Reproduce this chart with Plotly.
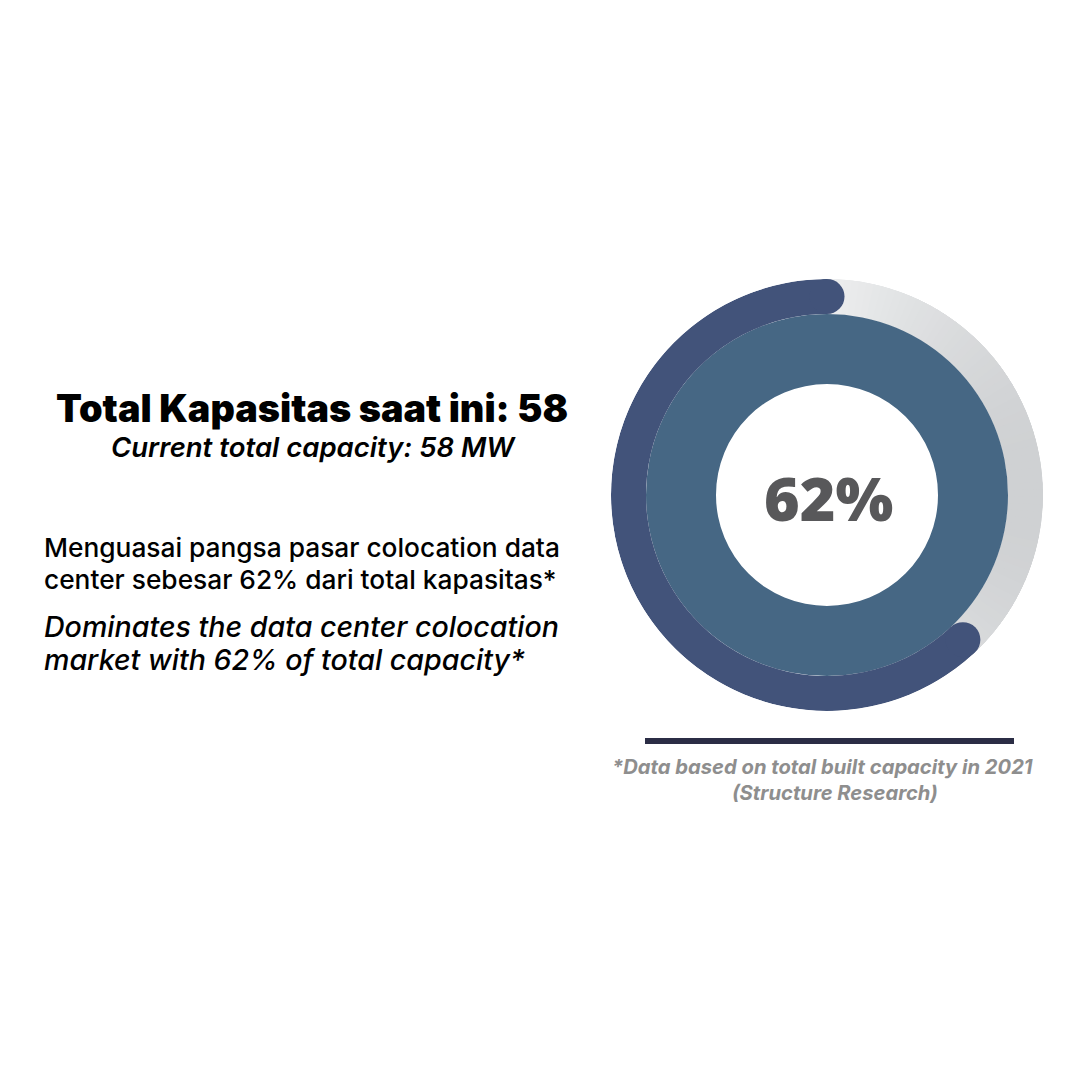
import plotly.graph_objects as go
import numpy as np

# ---- data ----
share_pct = 62           # market share (%)
total_capacity_mw = 58   # MW
title_id = "Total Kapasitas saat ini: 58"
title_en = "Current total capacity: 58 MW"
para_id = ["Menguasai pangsa pasar colocation data",
           "center sebesar 62% dari total kapasitas*"]
para_en = ["Dominates the data center colocation",
           "market with 62% of total capacity*"]
footnote = ["*Data based on total built capacity in 2021", "(Structure Research)"]

# ---- styling ----
W = H = 1080
CX, CY, R_OUT = 827, 495, 216
R_MID, R_HOLE = 181, 111
DARK = "#42537A"
DISC = "#466784"

span = 360 * share_pct / 100.0     # dark arc, counter-clockwise from top
rest = 360 - span

fig = go.Figure()

light = np.array([0xEE, 0xEF, 0xF0])
darkg = np.array([0xCF, 0xD1, 0xD3])

# base grey ring (hides seams)
fig.add_trace(go.Barpolar(
    r=[R_OUT - R_MID], base=[R_MID], theta=[90], width=[180],
    marker=dict(color="rgb(220,222,224)", line=dict(width=0)),
    hoverinfo="skip", showlegend=False))

# grey remainder ring with horizontal gradient (split in segments)
nseg = 90
edges = np.linspace(0, 180, nseg + 1)
for a0, a1 in zip(edges[:-1], edges[1:]):
    mid = (a0 + a1) / 2
    t = np.clip(np.sin(np.radians(mid)), 0, 1)
    c = light + (darkg - light) * t
    fig.add_trace(go.Barpolar(
        r=[R_OUT - R_MID], base=[R_MID], theta=[mid], width=[(a1 - a0) * 2.5],
        marker=dict(color=f"rgb({int(c[0])},{int(c[1])},{int(c[2])})", line=dict(width=0)),
        hoverinfo="skip", showlegend=False))

# inner disc
fig.add_trace(go.Barpolar(
    r=[R_MID - R_HOLE], base=[R_HOLE], theta=[180], width=[360],
    marker=dict(color=DISC, line=dict(width=0)),
    hoverinfo="skip", showlegend=False))

# dark share arc (clockwise coordinates: from rest to 360)
fig.add_trace(go.Barpolar(
    r=[R_OUT - R_MID], base=[R_MID], theta=[rest + span / 2], width=[span],
    marker=dict(color=DARK, line=dict(width=0)),
    hoverinfo="skip", showlegend=False))

# rounded caps
fig.add_trace(go.Scatterpolar(
    r=[(R_OUT + R_MID) / 2] * 2, theta=[0, rest], mode="markers",
    marker=dict(size=R_OUT - R_MID, color=DARK, line=dict(width=0)),
    hoverinfo="skip", showlegend=False))

fig.update_layout(
    width=W, height=H, margin=dict(l=0, r=0, t=0, b=0),
    paper_bgcolor="white", plot_bgcolor="white", showlegend=False,
    polar=dict(
        domain=dict(x=[(CX - R_OUT) / W, (CX + R_OUT) / W],
                    y=[1 - (CY + R_OUT) / H, 1 - (CY - R_OUT) / H]),
        bgcolor="rgba(0,0,0,0)", hole=0, bargap=0,
        radialaxis=dict(range=[0, R_OUT], visible=False),
        angularaxis=dict(visible=False, rotation=90, direction="clockwise"),
    ),
)

def ann(text, x, y, size, family="Inter", weight=400, color="black",
        xanchor="center", italic=False):
    fig.add_annotation(
        text=text, x=x / W, y=1 - y / H, xref="paper", yref="paper",
        xanchor=xanchor, yanchor="middle", showarrow=False,
        font=dict(family=family, size=size, weight=weight, color=color,
                  style="italic" if italic else "normal"))

# center label
ann(f"{share_pct}%", CX + 1, 497, 61, family="Open Sans", weight=800, color="#58585A")

# left texts
ann(title_id, 312, 408, 37.8, weight=900)
ann(title_en, 313, 447, 27.5, weight=600, italic=True)
ann(para_id[0], 42, 547, 26.3, weight=500, xanchor="left")
ann(para_id[1], 42, 579, 26.3, weight=500, xanchor="left")
ann(para_en[0], 42, 626, 28.6, weight=500, xanchor="left", italic=True)
ann(para_en[1], 42, 659, 28.6, weight=500, xanchor="left", italic=True)

# footnote
ann(footnote[0], 822, 766, 20.2, weight=700, color="#8E8E8E", italic=True)
ann(footnote[1], 835, 792, 20.2, weight=700, color="#8E8E8E", italic=True)

fig.add_shape(type="line", xref="paper", yref="paper",
              x0=645 / W, x1=1014 / W, y0=1 - 741 / H, y1=1 - 741 / H,
              line=dict(color="#2B2D45", width=6))

fig.write_html("out.html")
